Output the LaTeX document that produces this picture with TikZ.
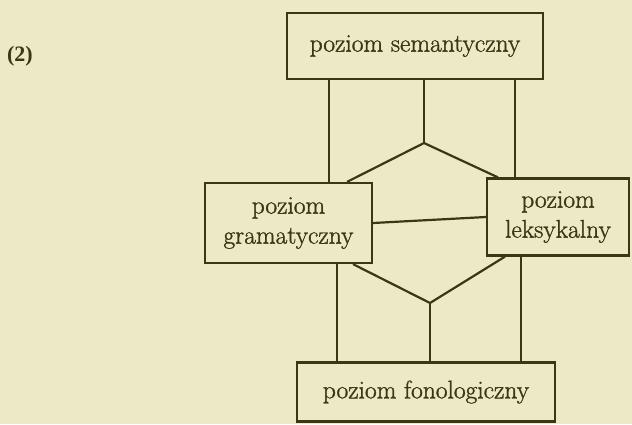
\documentclass[tikz,border=0pt]{standalone}
\usepackage{xcolor}
\usepackage{fontspec}
\newfontfamily\lvlfont{Latin Modern Roman}[FakeBold=1.2]
\newfontfamily\numfont{Liberation Serif}
\definecolor{paper}{HTML}{ECEAC6}
\definecolor{ink}{HTML}{3A3716}
\tikzset{
  lvl/.style={draw=ink, line width=2.2pt, text=ink, align=center, inner sep=0pt,
    font=\lvlfont\fontsize{25.5}{30}\selectfont},
  conn/.style={draw=ink, line width=2.2pt},
}
\begin{document}
\begin{tikzpicture}[x=1pt,y=-1pt]
\useasboundingbox (0,0) rectangle (632,424);
\fill[paper] (0,0) rectangle (632,424);
\node[text=ink, font=\numfont\bfseries\fontsize{22}{24}\selectfont] (num) at (20,56) {(2)};
\node[lvl, minimum width=256pt, minimum height=66pt] (sem) at (415,46) {poziom semantyczny};
\node[lvl, minimum width=167pt, minimum height=80pt] (gram) at (288.5,223) {poziom\\gramatyczny};
\node[lvl, minimum width=142pt, minimum height=77pt] (lex) at (558,217) {poziom\\leksykalny};
\node[lvl, minimum width=258pt, minimum height=59pt] (fon) at (426,392) {poziom fonologiczny};
\coordinate (dtop) at (424,143);
\coordinate (dbot) at (430,303);
\coordinate (xa) at (329,0);
\coordinate (xb) at (515,0);
\coordinate (xc) at (337,0);
\coordinate (xd) at (521,0);
\coordinate (ua) at (347,0);
\coordinate (ub) at (498,0);
\coordinate (la) at (353,0);
\coordinate (lb) at (505,0);
\draw[conn] (sem.south -| xa) -- (gram.north -| xa);
\draw[conn] (sem.south -| xb) -- (lex.north -| xb);
\draw[conn] (sem.south -| dtop) -- (dtop);
\draw[conn] (gram.north -| ua) -- (dtop) -- (lex.north -| ub);
\draw[conn] (gram.east) -- (lex.west);
\draw[conn] (gram.south -| la) -- (dbot) -- (lex.south -| lb);
\draw[conn] (dbot) -- (fon.north -| dbot);
\draw[conn] (gram.south -| xc) -- (fon.north -| xc);
\draw[conn] (lex.south -| xd) -- (fon.north -| xd);
\end{tikzpicture}
\end{document}
